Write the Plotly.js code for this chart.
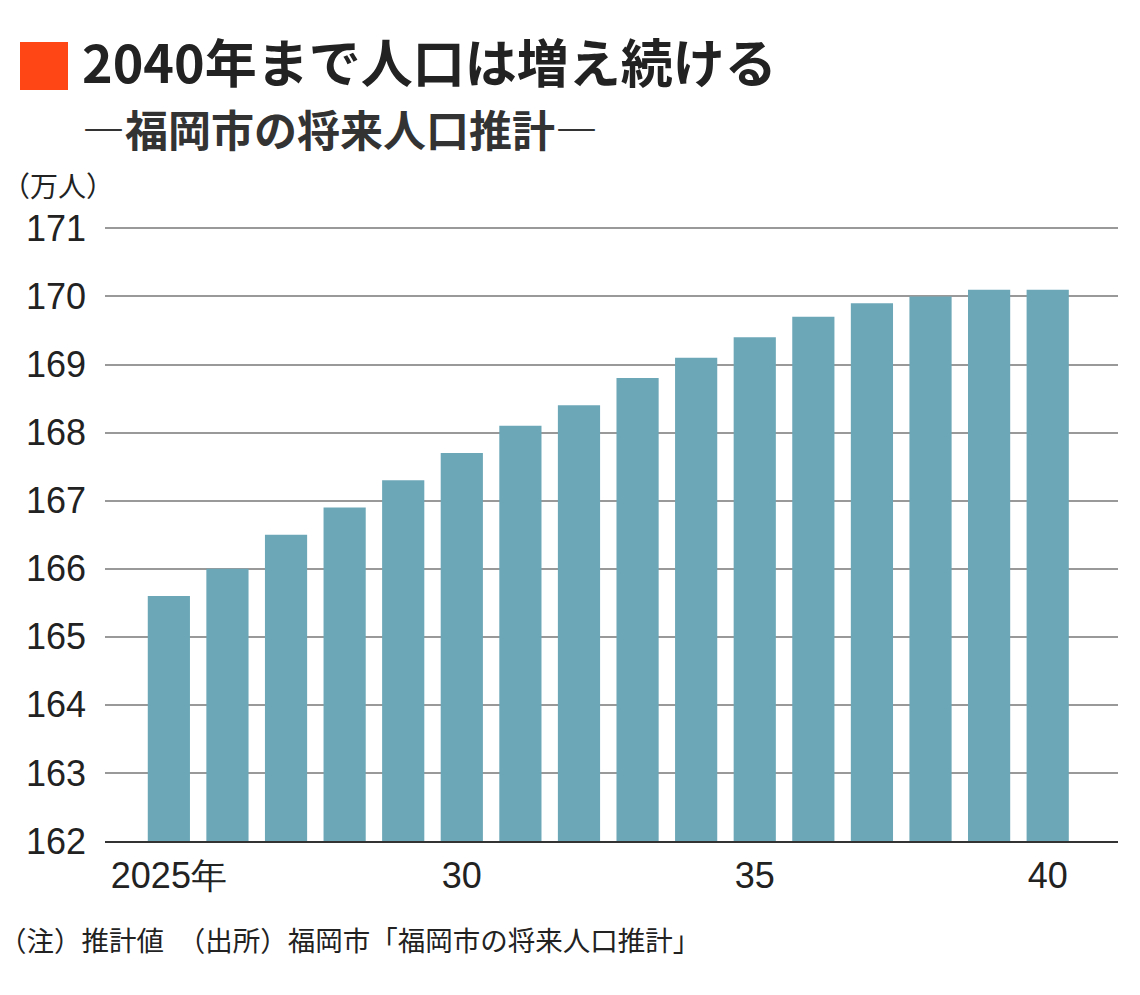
<!DOCTYPE html>
<html>
<head>
<meta charset="utf-8">
<script src="https://cdn.plot.ly/plotly-3.0.1.min.js"></script>
<style>
  html, body { margin: 0; padding: 0; background: #fff; }
  #chart { width: 1140px; height: 995px; }
</style>
</head>
<body>
<div id="chart"></div>
<script>
// 福岡市の将来人口推計 (万人)
const years = [2025, 2026, 2027, 2028, 2029, 2030, 2031, 2032, 2033, 2034, 2035, 2036, 2037, 2038, 2039, 2040];
const population = [165.6, 166.0, 166.5, 166.9, 167.3, 167.7, 168.1, 168.4, 168.8, 169.1, 169.4, 169.7, 169.9, 170.0, 170.1, 170.1];
const xTickVals = [2025, 2030, 2035, 2040];
const xTickText = ['2025年', '30', '35', '40'];
const yTickVals = [162, 163, 164, 165, 166, 167, 168, 169, 170, 171];

const jp = '"Noto Sans CJK JP", sans-serif';
const num = '"Liberation Sans Narrow", "Liberation Sans", Arial, sans-serif';

const plotData = [{
  type: 'bar',
  x: years,
  y: population,
  marker: { color: '#6ba7b7' },
  hoverinfo: 'x+y'
}];

const layout = {
  width: 1140,
  height: 995,
  paper_bgcolor: '#fff',
  plot_bgcolor: '#fff',
  showlegend: false,
  bargap: 0.28,
  margin: { l: 105, r: 22, t: 227, b: 154 },
  xaxis: {
    range: [2023.91, 2041.2],
    tickvals: xTickVals,
    ticktext: xTickText,
    tickfont: { family: num, size: 36, color: '#222' },
    ticks: '',
    ticklabelstandoff: 2,
    showgrid: false,
    zeroline: false,
    showline: true,
    linecolor: '#333',
    linewidth: 2
  },
  yaxis: {
    range: [162, 171.02],
    tickvals: yTickVals,
    tickfont: { family: num, size: 36, color: '#222' },
    ticks: '',
    ticklabelstandoff: 18,
    showgrid: true,
    gridcolor: '#999',
    gridwidth: 2,
    zeroline: false,
    showline: false
  },
  shapes: [
    { type: 'rect', xref: 'paper', yref: 'paper',
      x0: -85 / 1013, x1: -37 / 1013, y0: 1 + 137 / 614, y1: 1 + 185 / 614,
      fillcolor: '#ff4614', line: { width: 0 } }
  ],
  annotations: [
    { text: '<b>2040年まで人口は増え続ける</b>', xref: 'paper', yref: 'paper',
      x: -25 / 1013, y: 1 + 166 / 614, xanchor: 'left', yanchor: 'middle', showarrow: false,
      font: { family: jp, size: 52, color: '#222' } },
    { text: '<b>―福岡市の将来人口推計―</b>', xref: 'paper', yref: 'paper',
      x: -25 / 1013, y: 1 + 99 / 614, xanchor: 'left', yanchor: 'middle', showarrow: false,
      font: { family: jp, size: 43, color: '#333' } },
    { text: '（万人）', xref: 'paper', yref: 'paper',
      x: -105 / 1013, y: 1 + 42 / 614, xanchor: 'left', yanchor: 'middle', showarrow: false,
      font: { family: jp, size: 28, color: '#222' } },
    { text: '（注）推計値　（出所）福岡市「福岡市の将来人口推計」', xref: 'paper', yref: 'paper',
      x: -108 / 1013, y: -98 / 614, xanchor: 'left', yanchor: 'middle', showarrow: false,
      font: { family: jp, size: 27.5, color: '#222' } }
  ]
};

Plotly.newPlot('chart', plotData, layout, { displayModeBar: false, staticPlot: true });
</script>
</body>
</html>
